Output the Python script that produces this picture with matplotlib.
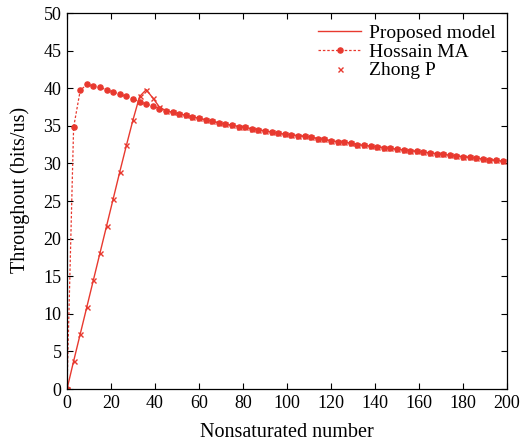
import numpy as np
import matplotlib.pyplot as plt

plt.rcParams['font.family'] = ['Liberation Serif', 'DejaVu Serif']
plt.rcParams['mathtext.fontset'] = 'stix'

# Hossain MA, every 3 stations
x_h = list(range(0, 199, 3))
y_h = [0, 34.8, 39.7, 40.5, 40.3, 40.1, 39.8, 39.5, 39.2, 38.9,
       38.6, 38.2, 37.9, 37.6, 37.3, 37.0, 36.8, 36.6, 36.4, 36.2,
       36.0, 35.8, 35.6, 35.4, 35.2, 35.1, 34.9, 34.8, 34.6, 34.5,
       34.3, 34.2, 34.0, 33.9, 33.8, 33.7, 33.6, 33.5, 33.3, 33.2,
       33.0, 32.9, 32.8, 32.7, 32.5, 32.4, 32.3, 32.2, 32.1, 32.0,
       31.9, 31.8, 31.7, 31.6, 31.5, 31.4, 31.3, 31.2, 31.1, 31.0,
       30.9, 30.8, 30.7, 30.6, 30.5, 30.4, 30.3]

# proposed model / Zhong P: linear rise, peak near 36, then same as Hossain
y_p_head = [0, 3.7, 7.3, 10.9, 14.5, 18.1, 21.7, 25.3, 28.9, 32.4,
            35.8, 38.9, 39.8, 38.7, 37.5]
y_p = y_p_head + y_h[len(y_p_head):]

red = '#e8392f'

fig = plt.figure(figsize=(5.26, 4.41), dpi=100)
ax = fig.add_axes([0.1274, 0.1179, 0.8365, 0.8526])

ax.plot(x_h, y_p, color=red, lw=1.0, label='Proposed model')
ax.plot(x_h, y_h, color=red, lw=0.9, ls=(0, (2, 1.5)), marker='o', ms=3.7,
        label='Hossain MA')
ax.plot(x_h, y_p, color=red, lw=0, marker='x', ms=3.6, mew=1.0, label='Zhong P')

ax.set_xlim(0, 200)
ax.set_ylim(0, 50)
ax.set_xticks(np.arange(0, 201, 20))
ax.set_yticks(np.arange(0, 51, 5))
ax.tick_params(direction='in', top=True, right=True, labelsize=13, length=4, pad=4)
ax.set_xlabel('Nonsaturated number', fontsize=14.5, labelpad=8)
ax.set_ylabel('Throughout (bits/us)', fontsize=14.5, labelpad=9)
ax.yaxis.set_label_coords(-0.083, 0.53)
for s in ax.spines.values():
    s.set_linewidth(0.9)

ax.legend(loc='upper right', frameon=False, fontsize=14, labelspacing=0.05,
          handlelength=2.2, handletextpad=0.4, borderaxespad=0.2)

fig.savefig('out.png', dpi=100)
